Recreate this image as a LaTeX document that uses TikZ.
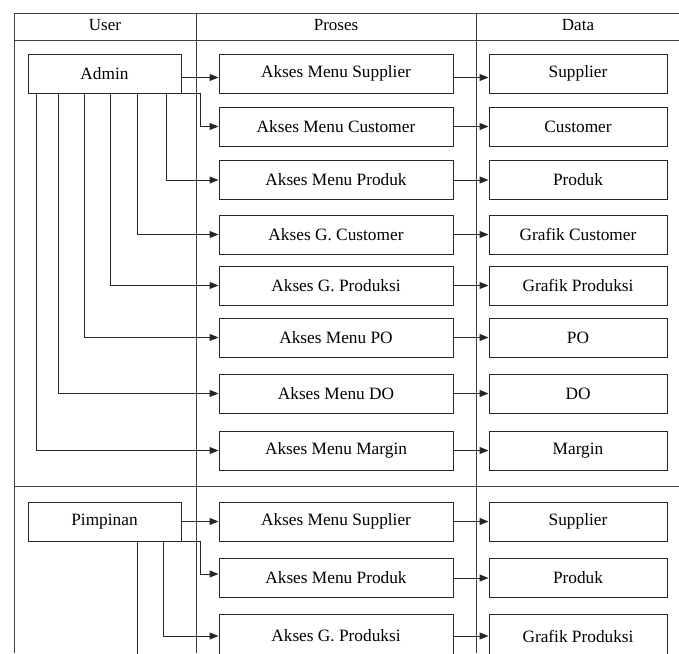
\documentclass[tikz,border=0pt]{standalone}
\usepackage{fontspec}
\setmainfont{Liberation Serif}
\usetikzlibrary{arrows.meta,calc}
\begin{document}
\begin{tikzpicture}[x=1pt,y=-1pt,
  grid/.style={draw=black!75,line width=1pt},
  box/.style={draw=black!85,line width=1pt,minimum height=39pt,inner sep=0pt,font=\fontsize{17.3}{19}\selectfont},
  ubox/.style={box,minimum width=153pt},
  pbox/.style={box,minimum width=234pt},
  dbox/.style={box,minimum width=178pt},
  hdr/.style={font=\fontsize{17}{19}\selectfont,inner sep=0pt},
  arr/.style={draw=black!85,line width=1pt,-{Triangle[length=9pt,width=7pt]}},
  con/.style={draw=black!85,line width=1pt}]
\useasboundingbox (0,0) rectangle (679,653);
\fill[white] (0,0) rectangle (679,653);
% table
\draw[grid] (14,653) -- (14,13) -- (679,13);
\draw[grid] (14,40) -- (679,40);
\draw[grid] (14,486) -- (679,486);
\draw[grid] (196,13) -- (196,653);
\draw[grid] (476,13) -- (476,653);
\node[hdr] (hu) at (105,25) {User};
\node[hdr] (hp) at (336,25) {Proses};
\node[hdr] (hd) at (578,25) {Data};
% Admin section
\node[ubox] (adm) at (104.5,73.5) {Admin};
\node[pbox] (p1) at (336,73.5) {Akses Menu Supplier};
\node[pbox] (p2) at (336,126.5) {Akses Menu Customer};
\node[pbox] (p3) at (336,180) {Akses Menu Produk};
\node[pbox] (p4) at (336,234.5) {Akses G. Customer};
\node[pbox] (p5) at (336,285.5) {Akses G. Produksi};
\node[pbox] (p6) at (336,337.5) {Akses Menu PO};
\node[pbox] (p7) at (336,393.5) {Akses Menu DO};
\node[pbox] (p8) at (336,450.5) {Akses Menu Margin};
\node[dbox] (d1) at (578,73.5) {Supplier};
\node[dbox] (d2) at (578,126.5) {Customer};
\node[dbox] (d3) at (578,180) {Produk};
\node[dbox] (d4) at (578,234.5) {Grafik Customer};
\node[dbox] (d5) at (578,285.5) {Grafik Produksi};
\node[dbox] (d6) at (578,337.5) {PO};
\node[dbox] (d7) at (578,393.5) {DO};
\node[dbox] (d8) at (578,450.5) {Margin};
\draw[arr] ([yshift=-4pt]adm.east) -- ([yshift=-4pt]p1.west);
\draw[arr] (adm.south east) -- ++(19,0) |- (p2.west);
\draw[arr] ([xshift=139pt]adm.south west) |- (p3.west);
\draw[arr] ([xshift=110pt]adm.south west) |- (p4.west);
\draw[arr] ([xshift=83pt]adm.south west) |- (p5.west);
\draw[arr] ([xshift=57pt]adm.south west) |- (p6.west);
\draw[arr] ([xshift=31pt]adm.south west) |- (p7.west);
\draw[arr] ([xshift=9pt]adm.south west) |- (p8.west);
\draw[arr] ([yshift=-4pt]p1.east) -- ([yshift=-4pt]d1.west);
\foreach \i in {2,...,8} {\draw[arr] (p\i.east) -- (d\i.west);}
% Pimpinan section
\node[ubox] (pim) at (104.5,521.5) {Pimpinan};
\node[pbox] (q1) at (336,521.5) {Akses Menu Supplier};
\node[pbox] (q2) at (336,578) {Akses Menu Produk};
\node[pbox,minimum height=44pt] (q3) at (336,636) {Akses G. Produksi};
\node[dbox] (e1) at (578,521.5) {Supplier};
\node[dbox] (e2) at (578,578) {Produk};
\node[dbox,minimum height=44pt] (e3) at (578,636) {Grafik Produksi};
\draw[arr] (pim.east) -- (q1.west);
\draw[arr] (pim.south east) -- ++(19,0) |- ([yshift=4pt]q2.west);
\draw[arr] ([xshift=136pt]pim.south west) |- (q3.west);
\draw[con] ([xshift=110pt]pim.south west) -- ++(0,120);
\draw[arr] (q1.east) -- (e1.west);
\draw[arr] (q2.east) -- (e2.west);
\draw[arr] (q3.east) -- (e3.west);
\end{tikzpicture}
\end{document}
